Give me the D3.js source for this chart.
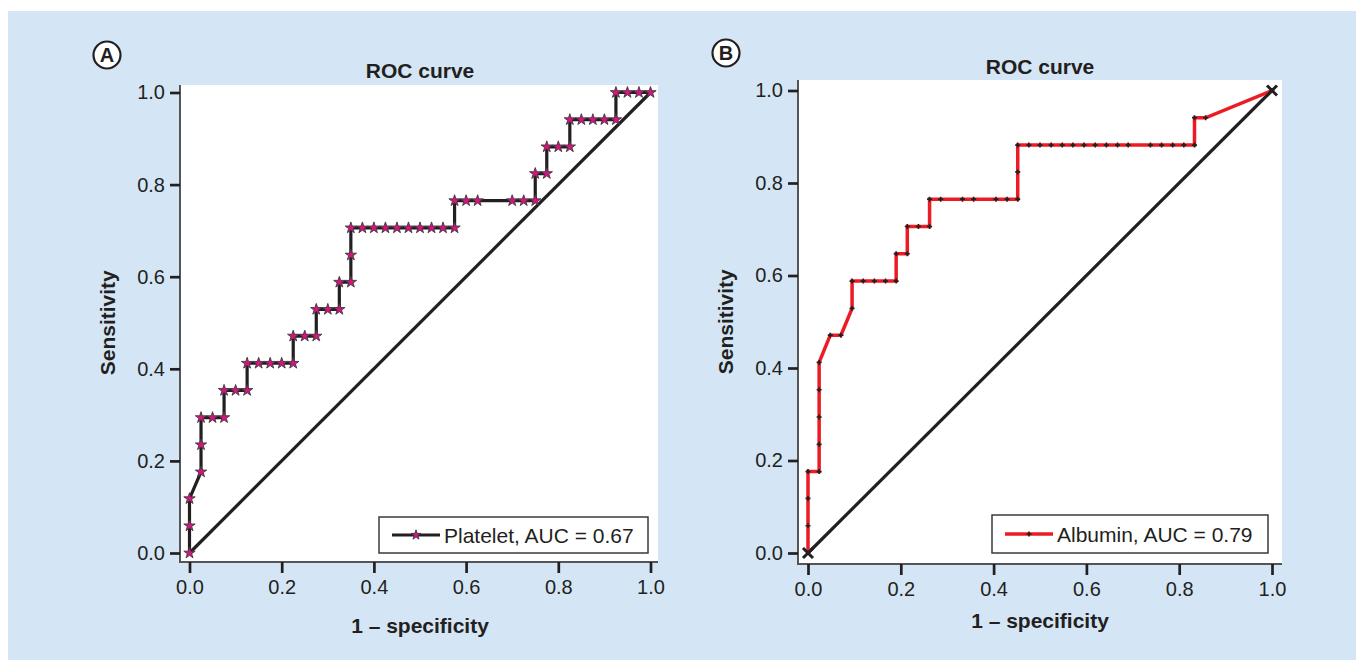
<!DOCTYPE html>
<html>
<head>
<meta charset="utf-8">
<title>ROC curves</title>
<script src="https://cdn.jsdelivr.net/npm/d3@7"></script>
<style>
  html, body { margin: 0; padding: 0; background: #fff; }
  svg { display: block; font-family: "Liberation Sans", Arial, Helvetica, sans-serif; }
</style>
</head>
<body>
<svg id="chart" width="1356" height="660"></svg>
<script>
// ---- data ----
var tickValues = [0, 0.2, 0.4, 0.6, 0.8, 1.0];

// panel A: platelet (1 - specificity, sensitivity)
var plateletFpr = [0, 0, 0, 0.025, 0.025, 0.025, 0.05, 0.075, 0.075, 0.1,
    0.125, 0.125, 0.15, 0.175, 0.2, 0.225, 0.225, 0.25, 0.275, 0.275,
    0.3, 0.325, 0.325, 0.35, 0.35, 0.35, 0.375, 0.4, 0.425, 0.45,
    0.475, 0.5, 0.525, 0.55, 0.575, 0.575, 0.6, 0.625, 0.7, 0.725,
    0.75, 0.75, 0.775, 0.775, 0.8, 0.825, 0.825, 0.85, 0.875, 0.9,
    0.925, 0.925, 0.95, 0.975, 1.0];
var plateletTpr = [0, 0.059, 0.118, 0.176, 0.235, 0.294, 0.294, 0.294, 0.353, 0.353,
    0.353, 0.412, 0.412, 0.412, 0.412, 0.412, 0.471, 0.471, 0.471, 0.529,
    0.529, 0.529, 0.588, 0.588, 0.647, 0.706, 0.706, 0.706, 0.706, 0.706,
    0.706, 0.706, 0.706, 0.706, 0.706, 0.765, 0.765, 0.765, 0.765, 0.765,
    0.765, 0.824, 0.824, 0.882, 0.882, 0.882, 0.941, 0.941, 0.941, 0.941,
    0.941, 1.0, 1.0, 1.0, 1.0];

// panel B: albumin
var albuminFpr = [0, 0, 0, 0, 0.024, 0.024, 0.024, 0.024, 0.024, 0.048,
    0.071, 0.095, 0.095, 0.119, 0.143, 0.167, 0.190, 0.190, 0.214, 0.214,
    0.238, 0.262, 0.262, 0.286, 0.333, 0.357, 0.405, 0.429, 0.452, 0.452,
    0.452, 0.476, 0.5, 0.524, 0.548, 0.571, 0.595, 0.619, 0.643, 0.667,
    0.690, 0.738, 0.762, 0.786, 0.810, 0.833, 0.833, 0.857, 1.0];
var albuminTpr = [0, 0.059, 0.118, 0.176, 0.176, 0.235, 0.294, 0.353, 0.412, 0.471,
    0.471, 0.529, 0.588, 0.588, 0.588, 0.588, 0.588, 0.647, 0.647, 0.706,
    0.706, 0.706, 0.765, 0.765, 0.765, 0.765, 0.765, 0.765, 0.765, 0.824,
    0.882, 0.882, 0.882, 0.882, 0.882, 0.882, 0.882, 0.882, 0.882, 0.882,
    0.882, 0.882, 0.882, 0.882, 0.882, 0.882, 0.941, 0.941, 1.0];

var diagonal = [0, 1];

var INK = '#231f20';

var svg = d3.select('#chart');

svg.append('rect')
    .attr('x', 8).attr('y', 11)
    .attr('width', 1348).attr('height', 649)
    .attr('fill', '#d4e6f5');

var panels = [
    {
        letter: 'A', fpr: plateletFpr, tpr: plateletTpr,
        label: 'Platelet, AUC = 0.67',
        color: INK, marker: 'star', diagMarker: false,
        left: 180, top: 85, right: 658, bottom: 562,
        x0: 189.5, x1: 650.5, y0: 553, y1: 92.5,
        letterPos: [107, 55], titleY: 78, xTitleY: 633, yTitleX: 108,
        legend: { x: 379, y: 517, w: 269, h: 36 }
    },
    {
        letter: 'B', fpr: albuminFpr, tpr: albuminTpr,
        label: 'Albumin, AUC = 0.79',
        color: '#ec1c24', marker: 'cross', diagMarker: true,
        left: 798, top: 80, right: 1282, bottom: 564,
        x0: 808, x1: 1272, y0: 553, y1: 90.5,
        letterPos: [726, 53], titleY: 74, xTitleY: 628, yTitleX: 726,
        legend: { x: 992, y: 515, w: 276, h: 38 }
    }
];

function markerPath(type, small) {
    if (type === 'star') {
        return d3.symbol().type(d3.symbolStar).size(small ? 30 : 40)();
    }
    return d3.symbol().type(d3.symbolCross).size(14)();
}

function drawMarkers(g, type, pts, tx) {
    g.selectAll('path.mk')
        .data(pts)
        .enter()
        .append('path')
        .attr('class', 'mk')
        .attr('d', markerPath(type))
        .attr('transform', tx)
        .attr('fill', type === 'star' ? '#d6137f' : INK)
        .attr('stroke', type === 'star' ? '#3a3a3a' : 'none')
        .attr('stroke-width', 0.9);
}

function drawPanel(p) {
    var g = svg.append('g');

    var x = d3.scaleLinear().domain([0, 1]).range([p.x0, p.x1]);
    var y = d3.scaleLinear().domain([0, 1]).range([p.y0, p.y1]);

    g.append('rect')
        .attr('x', p.left).attr('y', p.top)
        .attr('width', p.right - p.left).attr('height', p.bottom - p.top)
        .attr('fill', '#fff');

    // frame: left and bottom only
    g.append('path')
        .attr('d', 'M' + p.left + ',' + p.top + 'V' + p.bottom + 'H' + p.right)
        .attr('fill', 'none')
        .attr('stroke', '#555')
        .attr('stroke-width', 2);

    var yAxis = g.append('g')
        .attr('transform', 'translate(' + p.left + ',0)')
        .call(d3.axisLeft(y).tickValues(tickValues).tickFormat(d3.format('.1f'))
            .tickSizeInner(10).tickSizeOuter(0).tickPadding(5));
    var xAxis = g.append('g')
        .attr('transform', 'translate(0,' + p.bottom + ')')
        .call(d3.axisBottom(x).tickValues(tickValues).tickFormat(d3.format('.1f'))
            .tickSizeInner(11).tickSizeOuter(0).tickPadding(7));

    [yAxis, xAxis].forEach(function (a) {
        a.select('.domain').remove();
        a.selectAll('.tick line').attr('stroke', INK).attr('stroke-width', 2.7);
        a.selectAll('.tick text')
            .attr('fill', INK)
            .attr('font-size', '20px')
            .attr('font-family', '"Liberation Sans", Arial, sans-serif');
    });

    var line = d3.line()
        .x(function (d) { return x(d[0]); })
        .y(function (d) { return y(d[1]); });

    var diagPts = diagonal.map(function (v) { return [v, v]; });
    g.append('path')
        .attr('d', line(diagPts))
        .attr('fill', 'none')
        .attr('stroke', INK)
        .attr('stroke-width', 3.2);

    var pts = p.fpr.map(function (v, i) { return [v, p.tpr[i]]; });
    g.append('path')
        .attr('d', line(pts))
        .attr('fill', 'none')
        .attr('stroke', p.color)
        .attr('stroke-width', p.marker === 'star' ? 3.2 : 3.5)
        .attr('stroke-linejoin', 'miter');

    var tx = function (d) { return 'translate(' + x(d[0]) + ',' + y(d[1]) + ')'; };
    drawMarkers(g, p.marker, p.marker === 'star' ? pts : pts.slice(1), tx);

    if (p.diagMarker) {
        g.selectAll('path.xm')
            .data(diagPts)
            .enter()
            .append('path')
            .attr('class', 'xm')
            .attr('d', 'M-5,-5L5,5M-5,5L5,-5')
            .attr('transform', tx)
            .attr('stroke', INK)
            .attr('stroke-width', 3)
            .attr('fill', 'none');
    }

    // titles
    var cx = (p.x0 + p.x1) / 2;
    g.append('text')
        .attr('x', cx).attr('y', p.titleY)
        .attr('text-anchor', 'middle')
        .attr('font-size', '21px').attr('font-weight', 'bold')
        .attr('fill', INK)
        .text('ROC curve');

    g.append('text')
        .attr('x', cx).attr('y', p.xTitleY)
        .attr('text-anchor', 'middle')
        .attr('font-size', '21px').attr('font-weight', 'bold')
        .attr('fill', INK)
        .text('1 \u2013 specificity');

    g.append('text')
        .attr('transform', 'translate(' + p.yTitleX + ',' + ((p.y0 + p.y1) / 2) + ') rotate(-90)')
        .attr('text-anchor', 'middle')
        .attr('dy', '0.35em')
        .attr('font-size', '21px').attr('font-weight', 'bold')
        .attr('fill', INK)
        .text('Sensitivity');

    // panel letter
    g.append('circle')
        .attr('cx', p.letterPos[0]).attr('cy', p.letterPos[1])
        .attr('r', 13.5)
        .attr('fill', '#fff')
        .attr('stroke', INK)
        .attr('stroke-width', 2.2);
    g.append('text')
        .attr('x', p.letterPos[0]).attr('y', p.letterPos[1])
        .attr('dy', '0.36em')
        .attr('text-anchor', 'middle')
        .attr('font-size', '20px').attr('font-weight', 'bold')
        .attr('fill', INK)
        .text(p.letter);

    // legend
    var L = p.legend;
    var lg = g.append('g').attr('transform', 'translate(' + L.x + ',' + L.y + ')');
    lg.append('rect')
        .attr('width', L.w).attr('height', L.h)
        .attr('fill', '#fff')
        .attr('stroke', '#3a3a3a')
        .attr('stroke-width', 1.5);
    var my = L.h / 2;
    lg.append('line')
        .attr('x1', 13).attr('x2', 61)
        .attr('y1', my).attr('y2', my)
        .attr('stroke', p.color)
        .attr('stroke-width', p.marker === 'star' ? 3.2 : 3.5);
    lg.append('path')
        .attr('d', markerPath(p.marker, true))
        .attr('transform', 'translate(37,' + my + ')')
        .attr('fill', p.marker === 'star' ? '#d6137f' : INK)
        .attr('stroke', p.marker === 'star' ? '#3a3a3a' : 'none')
        .attr('stroke-width', 0.9);
    lg.append('text')
        .attr('x', 65).attr('y', my)
        .attr('dy', '0.36em')
        .attr('font-size', '21px')
        .attr('fill', INK)
        .text(p.label);
}

panels.forEach(drawPanel);
</script>
</body>
</html>
